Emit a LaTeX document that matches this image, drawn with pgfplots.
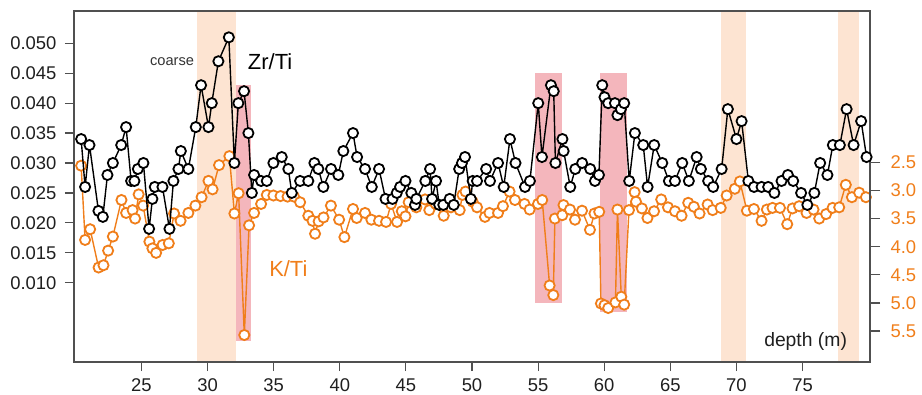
\documentclass[border=0pt]{standalone}
\usepackage{fontspec}
\setmainfont{Liberation Sans}
\usepackage{pgfplots}
\pgfplotsset{compat=1.18}
\definecolor{kor}{RGB}{240,126,26}
\definecolor{peach}{RGB}{253,228,210}
\definecolor{rose}{RGB}{244,182,188}
\definecolor{frame}{RGB}{80,80,80}
\begin{document}
\begin{tikzpicture}
\begin{axis}[
  scale only axis, width=796bp, height=351bp,
  xmin=19.9, xmax=80.1, ymin=-0.19, ymax=6.05, y dir=reverse,
  hide x axis, axis y line*=right,
  y axis line style={draw=none},
  ytick={2.5,3.0,3.5,4.0,4.5,5.0,5.5},
  /pgf/number format/assume math mode=true,
  yticklabel style={text=kor, xshift=7bp, font=\fontsize{18.5}{21}\selectfont, /pgf/number format/.cd, fixed, fixed zerofill, precision=1},
  tick align=outside, major tick length=10bp,
  every tick/.style={frame, line width=1.2bp},
  clip=false,
]
\fill[peach] (axis cs:29.22,-0.19) rectangle (axis cs:32.16,6.05);
\fill[peach] (axis cs:68.82,-0.19) rectangle (axis cs:70.69,6.05);
\fill[peach] (axis cs:77.69,-0.19) rectangle (axis cs:79.28,6.05);
\fill[rose] (axis cs:32.16,1.125) rectangle (axis cs:33.27,5.674);
\fill[rose] (axis cs:54.76,0.906) rectangle (axis cs:56.78,4.998);
\fill[rose] (axis cs:59.68,0.906) rectangle (axis cs:61.69,5.169);
\addplot[kor, line width=1.4bp, mark=*, mark size=5.1bp, mark options={fill=white, draw=kor, line width=1.8bp}] coordinates {
(20.44,2.56)(20.74,3.88)(21.12,3.69)(21.76,4.37)(22.13,4.33)(22.48,4.07)(22.84,3.82)(23.49,3.17)(23.84,3.40)(24.33,3.35)(24.52,3.50)(24.79,3.07)(25.13,3.27)(25.60,3.91)(25.83,4.03)(26.11,4.11)(26.60,3.97)(27.07,3.94)(27.47,3.41)(27.96,3.54)(28.55,3.40)(29.08,3.27)(29.55,3.12)(30.07,2.83)(30.38,2.98)(30.87,2.55)(31.65,2.39)(32.03,3.41)(32.35,3.05)(32.78,5.57)(33.14,3.62)(33.52,3.40)(34.05,3.24)(34.48,3.08)(34.98,3.09)(35.52,3.10)(36.05,3.11)(36.54,3.11)(37.00,3.21)(37.62,3.45)(37.94,3.54)(38.13,3.77)(38.40,3.55)(38.77,3.48)(39.33,3.27)(39.95,3.52)(40.35,3.83)(41.00,3.33)(41.28,3.49)(41.91,3.40)(42.39,3.52)(42.97,3.54)(43.50,3.56)(43.88,3.24)(44.33,3.56)(44.69,3.37)(44.97,3.46)(45.21,3.21)(45.79,3.30)(46.45,3.16)(46.77,3.35)(47.26,3.24)(47.86,3.45)(48.41,3.30)(49.07,3.35)(49.28,3.08)(49.51,3.02)(50.05,3.20)(50.38,3.30)(50.98,3.47)(51.32,3.40)(51.97,3.40)(52.34,3.28)(52.84,3.02)(53.25,3.17)(53.97,3.24)(54.36,3.34)(54.99,3.24)(55.31,3.17)(55.87,4.69)(56.15,4.86)(56.27,3.50)(56.83,3.44)(56.92,3.26)(57.41,3.34)(57.79,3.52)(58.32,3.36)(58.92,3.70)(59.26,3.41)(59.62,3.38)(59.75,5.01)(60.02,5.04)(60.30,5.09)(60.85,4.99)(61.00,3.34)(61.29,4.89)(61.51,5.03)(61.87,3.35)(62.30,3.03)(62.40,3.20)(62.85,3.32)(63.27,3.49)(63.77,3.37)(64.31,3.16)(64.82,3.30)(65.35,3.37)(65.85,3.45)(66.35,3.22)(66.78,3.29)(67.21,3.41)(67.82,3.25)(68.20,3.35)(68.81,3.31)(69.26,3.09)(69.88,2.97)(70.26,2.84)(70.79,3.36)(71.32,3.33)(71.90,3.54)(72.30,3.34)(72.73,3.31)(73.29,3.31)(73.84,3.60)(74.24,3.32)(74.74,3.28)(75.30,3.40)(75.83,3.34)(76.26,3.50)(76.78,3.42)(77.27,3.31)(77.77,3.30)(78.27,2.90)(78.73,3.12)(79.28,3.04)(79.79,3.12)
};
\end{axis}
\begin{axis}[
  name=main,
  scale only axis, width=796bp, height=351bp,
  xmin=19.9, xmax=80.1, ymin=-0.00325, ymax=0.0554,
  axis line style={frame, line width=1.3bp},
  xtick={25,30,35,40,45,50,55,60,65,70,75},
  ytick={0.010,0.015,0.020,0.025,0.030,0.035,0.040,0.045,0.050},
  xtick pos=bottom, ytick pos=left,
  tick align=outside, major tick length=9bp,
  every tick/.style={frame, line width=1.2bp},
  scaled y ticks=false,
  /pgf/number format/assume math mode=true,
  ticklabel style={font=\fontsize{18.5}{21}\selectfont, text=black!88},
  xticklabel style={yshift=-4bp},
  yticklabel style={xshift=-5bp, /pgf/number format/.cd, fixed, fixed zerofill, precision=3},
  clip=false,
]
\addplot[black, line width=1.4bp, mark=*, mark size=5.1bp, mark options={fill=white, draw=black, line width=1.8bp}] coordinates {
(20.44,0.034)(20.74,0.026)(21.07,0.033)(21.75,0.022)(22.08,0.021)(22.43,0.028)(22.84,0.030)(23.47,0.033)(23.84,0.036)(24.22,0.027)(24.47,0.027)(24.73,0.029)(25.15,0.030)(25.58,0.019)(25.83,0.024)(26.01,0.026)(26.59,0.026)(27.12,0.019)(27.42,0.027)(27.80,0.029)(27.98,0.032)(28.55,0.029)(29.11,0.036)(29.51,0.043)(30.07,0.036)(30.32,0.040)(30.82,0.047)(31.61,0.051)(32.03,0.030)(32.33,0.040)(32.76,0.042)(33.09,0.035)(33.35,0.025)(33.52,0.028)(34.05,0.027)(34.48,0.027)(34.98,0.030)(35.61,0.031)(36.11,0.029)(36.37,0.025)(37.00,0.027)(37.62,0.027)(38.08,0.030)(38.38,0.029)(38.76,0.026)(39.34,0.029)(39.89,0.028)(40.27,0.032)(41.00,0.035)(41.31,0.031)(41.91,0.029)(42.42,0.026)(42.97,0.029)(43.46,0.024)(43.99,0.024)(44.31,0.025)(44.56,0.026)(44.97,0.027)(45.41,0.025)(45.69,0.023)(45.79,0.024)(46.47,0.027)(46.83,0.029)(46.98,0.024)(47.28,0.027)(47.52,0.023)(47.83,0.023)(48.31,0.024)(48.62,0.023)(49.03,0.029)(49.24,0.030)(49.47,0.031)(49.91,0.024)(50.05,0.027)(50.38,0.027)(51.07,0.029)(51.36,0.027)(51.97,0.030)(52.40,0.026)(52.87,0.034)(53.29,0.030)(54.01,0.026)(54.38,0.027)(55.01,0.040)(55.29,0.031)(55.97,0.043)(56.18,0.042)(56.31,0.030)(56.84,0.034)(56.93,0.032)(57.43,0.026)(57.81,0.029)(58.33,0.030)(58.94,0.029)(59.30,0.027)(59.60,0.028)(59.85,0.043)(60.02,0.041)(60.30,0.040)(60.81,0.040)(61.00,0.038)(61.26,0.039)(61.51,0.040)(61.89,0.027)(62.32,0.035)(62.95,0.033)(63.28,0.026)(63.78,0.033)(64.39,0.030)(64.89,0.027)(65.35,0.027)(65.90,0.030)(66.40,0.027)(66.99,0.031)(67.31,0.029)(67.86,0.027)(68.24,0.026)(68.88,0.029)(69.35,0.039)(70.00,0.034)(70.39,0.037)(70.90,0.027)(71.33,0.026)(71.90,0.026)(72.40,0.026)(72.87,0.025)(73.41,0.027)(73.89,0.028)(74.29,0.027)(74.89,0.025)(75.36,0.023)(75.89,0.025)(76.33,0.030)(76.88,0.028)(77.29,0.033)(77.82,0.033)(78.33,0.039)(78.86,0.033)(79.43,0.037)(79.84,0.031)
};
\node[font=\fontsize{14.7}{16}\selectfont, text=black!80] at (axis cs:27.32,0.0470) {coarse};
\node[font=\fontsize{22}{24}\selectfont, text=black] at (axis cs:34.73,0.0470) {Zr/Ti};
\node[font=\fontsize{22}{24}\selectfont, text=kor] at (axis cs:36.11,0.0123) {K/Ti};
\node[font=\fontsize{19.4}{22}\selectfont, text=black!88] at (axis cs:75.23,0.0001) {depth (m)};
\end{axis}
\path ([xshift=-74bp,yshift=-33bp]main.south west) rectangle ([xshift=52bp,yshift=11bp]main.north east);
\end{tikzpicture}
\end{document}
